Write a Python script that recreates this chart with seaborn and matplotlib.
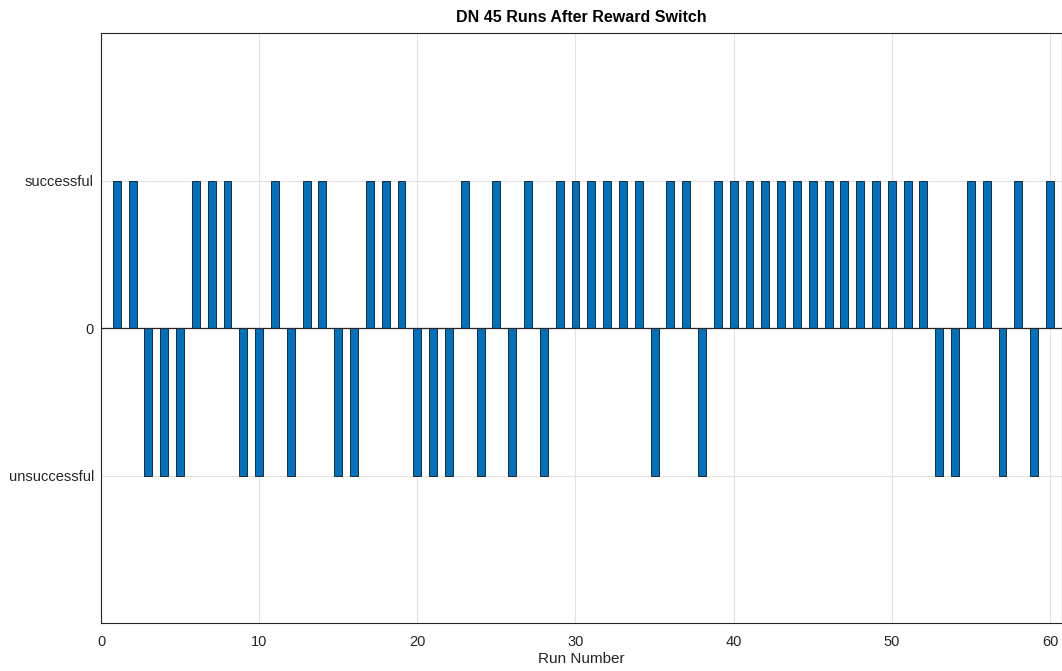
import matplotlib
matplotlib.use('Agg')
import matplotlib.pyplot as plt
import numpy as np
import pandas as pd
import seaborn as sns

# run outcome after reward switch: 1 = successful, -1 = unsuccessful
runs = list(range(1, 61))
outcome = [1, 1, -1, -1, -1, 1, 1, 1, -1, -1,
           1, -1, 1, 1, -1, -1, 1, 1, 1, -1,
           -1, -1, 1, -1, 1, -1, 1, -1, 1, 1,
           1, 1, 1, 1, -1, 1, 1, -1, 1, 1,
           1, 1, 1, 1, 1, 1, 1, 1, 1, 1,
           1, 1, -1, -1, 1, 1, -1, 1, -1, 1]
ytick_vals = [-1, 0, 1]
ytick_labels = ['unsuccessful', '0', 'successful']
xtick_vals = [0, 10, 20, 30, 40, 50, 60]

df = pd.DataFrame({'run': runs, 'outcome': outcome})

sns.set_style('white')
plt.rcParams['font.family'] = ['Liberation Sans', 'DejaVu Sans']

fig = plt.figure(figsize=(10.62, 6.71), dpi=100)
ax = fig.add_axes([101 / 1062, 1 - 623 / 671, 1 - 101 / 1062, (623 - 33) / 671])

ax.grid(True, color='#e3e3e3', linewidth=0.8, zorder=0)
ax.set_axisbelow(True)

sns.barplot(data=df, x='run', y='outcome', native_scale=True, width=0.5,
            color='#0072BD', edgecolor='#1f2a36', linewidth=0.7,
            saturation=1, errorbar=None, ax=ax, zorder=3)

ax.axhline(0, color='#262626', linewidth=0.9, zorder=4)

ax.set_xlim(0, 60.76)
ax.set_ylim(-2, 2)
ax.set_xticks(xtick_vals)
ax.set_yticks(ytick_vals)
ax.set_yticklabels(ytick_labels)
ax.tick_params(axis='both', direction='in', length=5, labelsize=10.5,
               colors='#262626', width=0.8)
ax.tick_params(axis='x', pad=9)
ax.tick_params(axis='y', pad=5)

for side in ['left', 'bottom', 'top', 'right']:
    ax.spines[side].set_visible(True)
    ax.spines[side].set_color('#262626')
    ax.spines[side].set_linewidth(0.8)

ax.set_xlabel('Run Number', fontsize=11, color='#262626', labelpad=2)
ax.set_ylabel('')
ax.set_title('DN 45 Runs After Reward Switch', fontsize=11.5, fontweight='bold',
             color='black', pad=8)

fig.savefig('out.png', dpi=100)
